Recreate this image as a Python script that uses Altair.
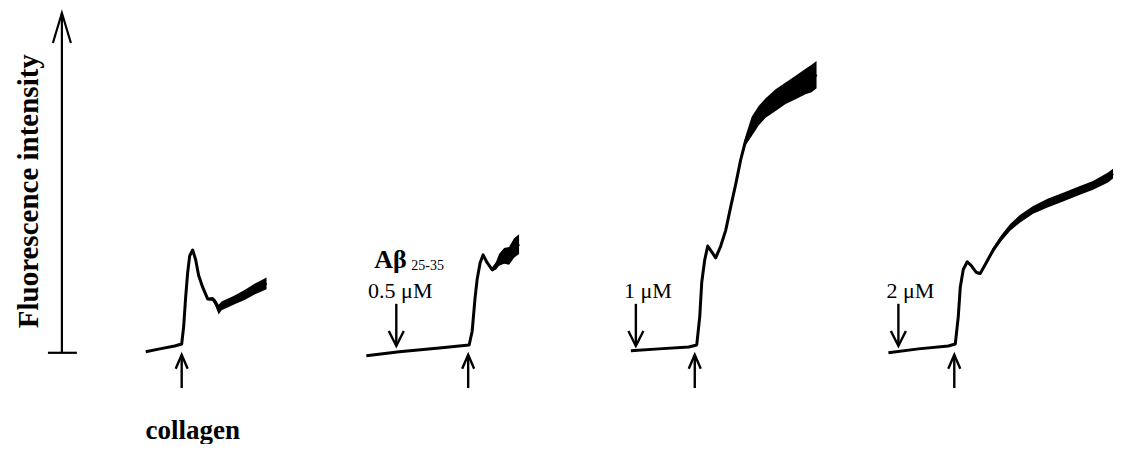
import altair as alt
import pandas as pd

# ---- data (time axis, fluorescence axis, noise band) ----
trace1_time = [146, 160, 175, 182, 184, 186, 188, 190, 193, 196, 199, 203, 208, 213, 216, 219, 222, 235, 245, 255, 267]
trace1_fluo = [96, 99, 102, 104, 122, 152, 177, 194, 200, 190, 174, 162, 150, 150, 146, 139, 143, 149, 154, 160, 166]
trace1_noise = [0, 0, 0, 0, 0, 0, 0, 0, 0, 0, 0, 0, 2, 4, 7, 10, 9, 9, 10, 11, 12]

trace2_time = [367, 400, 440, 470, 473, 476, 478, 481, 484, 488, 493, 497, 500, 505, 510, 515, 520]
trace2_fluo = [92, 96, 100, 103, 117, 152, 170, 187, 195, 187, 180, 184, 190, 194, 194, 202, 206]
trace2_noise = [0, 0, 0, 0, 0, 0, 0, 0, 0, 2, 4, 8, 12, 16, 18, 20, 20]

trace3_time = [632, 660, 690, 698, 701, 703, 706, 709, 713, 717, 722, 727, 732, 737, 742, 747, 753, 760, 767, 777, 787, 797, 807, 813, 818]
trace3_fluo = [97, 99, 101, 103, 132, 167, 190, 204, 198, 192, 204, 220, 244, 267, 292, 312, 326, 337, 345, 353, 360, 366, 372, 375, 379]
trace3_noise = [0, 0, 0, 0, 0, 0, 0, 0, 0, 0, 0, 0, 0, 2, 4, 10, 20, 20, 20, 22, 22, 24, 26, 28, 28]

trace4_time = [890, 920, 950, 957, 960, 962, 965, 969, 973, 978, 982, 988, 995, 1003, 1012, 1022, 1035, 1050, 1065, 1080, 1095, 1110, 1115]
trace4_fluo = [95, 99, 102, 104, 132, 162, 180, 188, 184, 177, 176, 187, 200, 212, 223, 232, 241, 248, 254, 260, 266, 274, 278]
trace4_noise = [0, 0, 0, 0, 0, 0, 0, 0, 1, 2, 3, 4, 5, 6, 7, 8, 8, 9, 9, 9, 9, 10, 10]

collagen_times = [182, 469, 696, 956]
abeta_times = [397, 637, 900]
abeta_labels = ["0.5 \u03bcM", "1 \u03bcM", "2 \u03bcM"]
abeta_label_times = [401, 649, 912]

axis_time = 62
axis_fluo = [95, 442]
axis_tick = [48, 77]

collagen_arrow_fluo = [59, 93]
abeta_arrow_fluo = [102, 145]
abeta_label_fluo = 158

# ---- tables ----
rows = []
for name, t, f, n in [("1", trace1_time, trace1_fluo, trace1_noise),
                      ("2", trace2_time, trace2_fluo, trace2_noise),
                      ("3", trace3_time, trace3_fluo, trace3_noise),
                      ("4", trace4_time, trace4_fluo, trace4_noise)]:
    for i, (a, b, c) in enumerate(zip(t, f, n)):
        rows.append({"trace": name, "order": i, "time": a, "fluo": b, "noise": c})
traces = pd.DataFrame(rows)

xs = alt.Scale(domain=[8, 1115], nice=False, zero=False)
ys = alt.Scale(domain=[8, 444], nice=False, zero=False)
X = lambda f: alt.X(f, type="quantitative", scale=xs, axis=None)
Y = lambda f: alt.Y(f, type="quantitative", scale=ys, axis=None)

serif = "Liberation Serif"

band = alt.Chart(traces).transform_calculate(
    lo="datum.fluo - datum.noise / 2", hi="datum.fluo + datum.noise / 2"
).mark_area(color="black", opacity=1).encode(
    x=X("time"), y=Y("lo:Q"), y2="hi:Q", detail="trace:N")

line = alt.Chart(traces).mark_line(color="black", strokeWidth=3, strokeJoin="round").encode(
    x=X("time"), y=Y("fluo"), detail="trace:N", order="order:Q")

# y-axis arrow
axis_df = pd.DataFrame({"t": [axis_time], "f0": [axis_fluo[0]], "f1": [axis_fluo[1]],
                        "t0": [axis_tick[0]], "t1": [axis_tick[1]]})
axis_shaft = alt.Chart(axis_df).mark_rule(color="black", strokeWidth=2.2).encode(
    x=X("t"), y=Y("f0"), y2="f1")
axis_base = alt.Chart(axis_df).mark_rule(color="black", strokeWidth=2.2).encode(
    x=X("t0"), x2="t1", y=Y("f0"))
axis_head = alt.Chart(axis_df).mark_point(
    shape="M-0.6,2L0,0L0.6,2", size=900, filled=False, color="black",
    strokeWidth=2.2, opacity=1).encode(x=X("t"), y=Y("f1"))

# collagen arrows (up)
col_df = pd.DataFrame({"t": collagen_times, "f0": [collagen_arrow_fluo[0]] * 4,
                       "f1": [collagen_arrow_fluo[1]] * 4})
col_shaft = alt.Chart(col_df).mark_rule(color="black", strokeWidth=2.4).encode(
    x=X("t"), y=Y("f0"), y2="f1")
col_head = alt.Chart(col_df).mark_point(
    shape="M-0.6,1.4L0,0L0.6,1.4", size=400, filled=False, color="black",
    strokeWidth=2.4, opacity=1).encode(x=X("t"), y=Y("f1"))

# Abeta arrows (down)
ab_df = pd.DataFrame({"t": abeta_times, "f0": [abeta_arrow_fluo[0]] * 3,
                      "f1": [abeta_arrow_fluo[1]] * 3})
ab_shaft = alt.Chart(ab_df).mark_rule(color="black", strokeWidth=2.4).encode(
    x=X("t"), y=Y("f0"), y2="f1")
ab_head = alt.Chart(ab_df).mark_point(
    shape="M-0.75,-1.5L0,0L0.75,-1.5", size=400, filled=False, color="black",
    strokeWidth=2.4, opacity=1).encode(x=X("t"), y=Y("f0"))

lab_df = pd.DataFrame({"t": abeta_label_times, "f": [abeta_label_fluo] * 3, "txt": abeta_labels})
ab_labels = alt.Chart(lab_df).mark_text(font=serif, fontSize=22, color="black",
                                        align="center").encode(
    x=X("t"), y=Y("f"), text="txt:N")

txt_df = pd.DataFrame({
    "t": [375, 412, 193],
    "f": [190, 184, 15],
    "txt": ["A\u03b2", "25-35", "collagen"],
})
ab_name = alt.Chart(txt_df.iloc[[0]]).mark_text(font=serif, fontSize=26, fontWeight="bold",
                                                color="black", align="left").encode(
    x=X("t"), y=Y("f"), text="txt:N")
ab_sub = alt.Chart(txt_df.iloc[[1]]).mark_text(font=serif, fontSize=14, color="black",
                                               align="left").encode(
    x=X("t"), y=Y("f"), text="txt:N")
collagen = alt.Chart(txt_df.iloc[[2]]).mark_text(font=serif, fontSize=27, fontWeight="bold",
                                                 color="black", align="center").encode(
    x=X("t"), y=Y("f"), text="txt:N")

ylab_df = pd.DataFrame({"t": [29], "f": [260], "txt": ["Fluorescence intensity"]})
ylab = alt.Chart(ylab_df).mark_text(font=serif, fontSize=29, fontWeight="bold", color="black",
                                    align="center", baseline="middle", angle=270).encode(
    x=X("t"), y=Y("f"), text="txt:N")

chart = alt.layer(
    band, line, axis_shaft, axis_base, axis_head, col_shaft, col_head, ab_shaft, ab_head,
    ab_labels, ab_name, ab_sub, collagen, ylab
).properties(
    width=1107, height=436, padding=0,
    autosize=alt.AutoSizeParams(type="fit", contains="padding"),
    background="white",
).configure_view(stroke=None)

chart.save("out.html", embed_options={"renderer": "svg", "actions": False})
